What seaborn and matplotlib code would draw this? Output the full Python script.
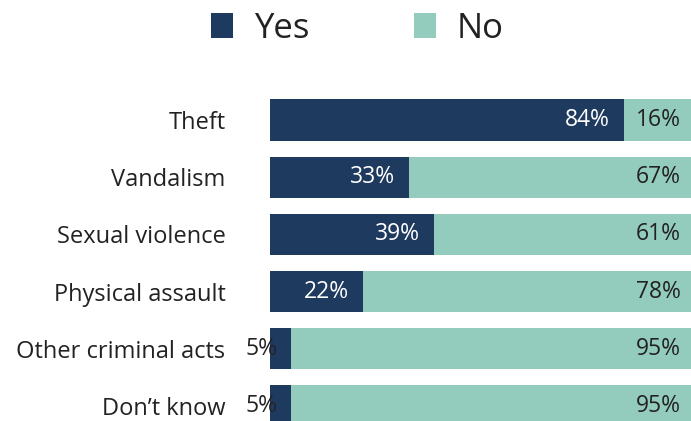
import matplotlib
matplotlib.use("Agg")
import matplotlib.pyplot as plt
import matplotlib.patches as mpatches
import seaborn as sns
import pandas as pd

categories = ["Theft", "Vandalism", "Sexual violence", "Physical assault",
              "Other criminal acts", "Don\u2019t know"]
yes_pct = [84, 33, 39, 22, 5, 5]
no_pct = [16, 67, 61, 78, 95, 95]
series_names = ["Yes", "No"]

YES_COLOR = "#1f3a5f"
NO_COLOR = "#93ccbd"
TEXT_COLOR = "#222222"

sns.set_theme(style="white")
plt.rcParams["font.family"] = ["Open Sans", "DejaVu Sans"]

df = pd.DataFrame({"category": categories, "yes": yes_pct, "no": no_pct})
df["total"] = df["yes"] + df["no"]

fig = plt.figure(figsize=(6.91, 4.21), dpi=100)
ax = fig.add_axes([270 / 691, -0.032, 1 - 270 / 691, 0.815])

# Full-length "No" bars underneath, "Yes" bars stacked from the left
sns.barplot(data=df, y="category", x="total", color=NO_COLOR, orient="h",
            width=0.72, ax=ax, saturation=1, linewidth=0)
sns.barplot(data=df, y="category", x="yes", color=YES_COLOR, orient="h",
            width=0.72, ax=ax, saturation=1, linewidth=0)

ax.set_xlim(0, 100)
ax.set_ylim(len(categories) - 0.5, -0.5)
ax.set_xlabel("")
ax.set_ylabel("")
ax.set_xticks([])
ax.tick_params(axis="y", length=0, pad=32, labelsize=17, labelcolor=TEXT_COLOR)
for s in ax.spines.values():
    s.set_visible(False)

px = 100 / 421  # one pixel in data units along x
for i, (y, n) in enumerate(zip(yes_pct, no_pct)):
    col = "white" if y >= 10 else TEXT_COLOR
    ax.text(y - 14 * px, i, f"{y}%", ha="right", va="center",
            fontsize=16.5, color=col)
    ax.text(y + n - 10 * px, i, f"{n}%", ha="right", va="center",
            fontsize=16.5, color=TEXT_COLOR)

handles = [mpatches.Patch(color=YES_COLOR, linewidth=0),
           mpatches.Patch(color=NO_COLOR, linewidth=0)]
fig.legend(handles, series_names, loc="center", bbox_to_anchor=(0.517, 0.932),
           ncol=2, frameon=False, fontsize=25, handlelength=0.65,
           handleheight=0.7, handletextpad=0.6, columnspacing=3.0,
           labelcolor=TEXT_COLOR)

fig.savefig("out.png", dpi=100)
